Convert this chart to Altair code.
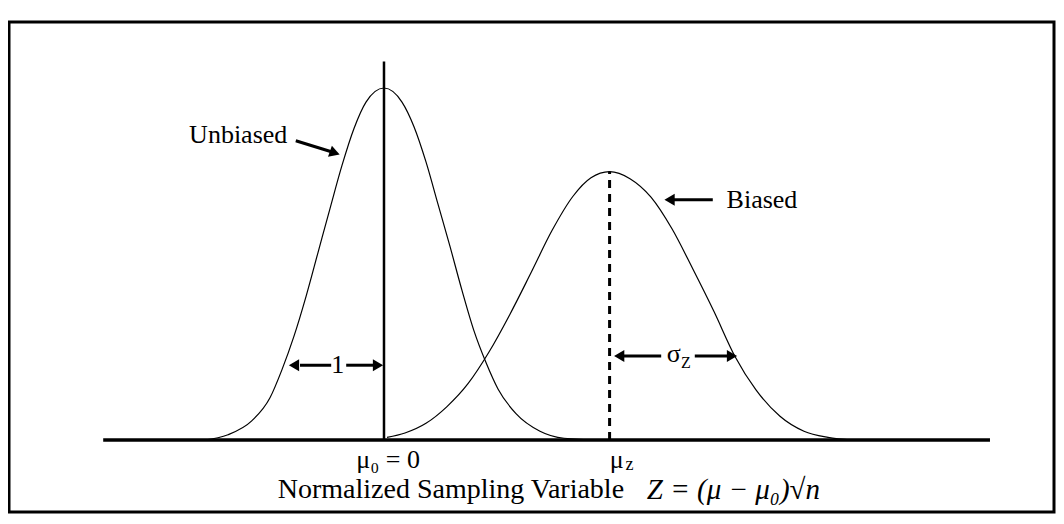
import altair as alt
import pandas as pd

# ---- curve values (Z units, relative density) ----
unbiased_z = [-3.0, -2.6, -2.2, -1.9, -1.7, -1.5, -1.3, -1.1, -0.9, -0.7, -0.5, -0.3,
              0.0, 0.3, 0.5, 0.7, 0.9, 1.1, 1.3, 1.5, 1.7, 1.9, 2.2, 2.6, 3.0, 3.6]
unbiased_density = [0.000, 0.006, 0.022, 0.048, 0.080, 0.118, 0.163, 0.213, 0.263, 0.312,
                    0.354, 0.384, 0.400, 0.384, 0.356, 0.316, 0.268, 0.220, 0.170, 0.124,
                    0.088, 0.058, 0.030, 0.010, 0.002, 0.000]
biased_z = [0.05, 0.35, 0.7, 1.05, 1.4, 1.75, 2.1, 2.45, 2.8, 3.15, 3.45, 3.76,
            4.1, 4.45, 4.8, 5.15, 5.5, 5.85, 6.2, 6.6, 7.0, 7.4, 7.8]
biased_density = [0.003, 0.008, 0.019, 0.038, 0.064, 0.100, 0.143, 0.190, 0.238, 0.277,
                  0.298, 0.305, 0.297, 0.276, 0.240, 0.194, 0.146, 0.095, 0.057, 0.027,
                  0.010, 0.003, 0.000]

mu0 = 0.0
mu_z = 3.76
unbiased_line_top = 0.43     # top of solid line at mu0
biased_peak = 0.305
baseline_start = -4.68
baseline_end = 10.10

# annotation arrows (shafts)
shaft_x1 = [-1.47, 5.48, -1.40, -0.63, 3.93, 5.18]
shaft_y1 = [0.340, 0.273, 0.085, 0.085, 0.0955, 0.0955]
shaft_x2 = [-0.85, 4.78, -0.88, -0.14, 4.62, 5.78]
shaft_y2 = [0.327, 0.273, 0.085, 0.085, 0.0955, 0.0955]
# arrow heads
head_x = [-0.82, 4.76, -1.50, -0.10, 3.92, 5.80]
head_y = [0.3262, 0.273, 0.085, 0.085, 0.0955, 0.0955]
head_angle = [19, 180, 180, 0, 180, 0]

# text labels
label_text = ["Unbiased", "Biased", "1", "σ", "Z", "μ₀ = 0", "μ", "z"]
label_x = [-2.43, 6.30, -0.77, 4.83, 5.03, 0.07, 3.88, 4.09]
label_y = [0.347, 0.273, 0.085, 0.098, 0.0875, -0.0227, -0.0227, -0.0285]
label_size = [26, 26, 26, 26, 16, 26, 26, 18]

title_main = "Normalized Sampling Variable"
title_math = "Z = (μ − μ₀)√n"
title_main_x = -1.77
title_math_x = 4.38
title_y = -0.0568

X_DOMAIN = [-6.25, 11.167]
Y_DOMAIN = [-0.0818, 0.475]
FONT = "Liberation Serif"

xs = alt.Scale(domain=X_DOMAIN, nice=False, zero=False)
ys = alt.Scale(domain=Y_DOMAIN, nice=False, zero=False)

curves = pd.DataFrame({
    "z": unbiased_z + biased_z,
    "d": unbiased_density + biased_density,
    "curve": ["Unbiased"] * len(unbiased_z) + ["Biased"] * len(biased_z),
})

curve_layer = alt.Chart(curves).mark_line(
    color="black", strokeWidth=1.2, interpolate="monotone"
).encode(
    x=alt.X("z:Q", scale=xs, axis=None),
    y=alt.Y("d:Q", scale=ys, axis=None),
    detail="curve:N",
)

base_df = pd.DataFrame({"x1": [baseline_start], "x2": [baseline_end], "y": [0.0]})
baseline = alt.Chart(base_df).mark_rule(color="black", strokeWidth=3.5).encode(
    x=alt.X("x1:Q", scale=xs, axis=None), x2="x2:Q",
    y=alt.Y("y:Q", scale=ys, axis=None),
)

solid_df = pd.DataFrame({"x": [mu0], "y1": [0.0], "y2": [unbiased_line_top]})
solid = alt.Chart(solid_df).mark_rule(color="black", strokeWidth=2.5).encode(
    x=alt.X("x:Q", scale=xs, axis=None),
    y=alt.Y("y1:Q", scale=ys, axis=None), y2="y2:Q",
)

dash_df = pd.DataFrame({"x": [mu_z], "y1": [0.0], "y2": [biased_peak]})
dashed = alt.Chart(dash_df).mark_rule(color="black", strokeWidth=3, strokeDash=[8, 6]).encode(
    x=alt.X("x:Q", scale=xs, axis=None),
    y=alt.Y("y1:Q", scale=ys, axis=None), y2="y2:Q",
)

shaft_df = pd.DataFrame({"x1": shaft_x1, "y1": shaft_y1, "x2": shaft_x2, "y2": shaft_y2})
shafts = alt.Chart(shaft_df).mark_rule(color="black", strokeWidth=3).encode(
    x=alt.X("x1:Q", scale=xs, axis=None), x2="x2:Q",
    y=alt.Y("y1:Q", scale=ys, axis=None), y2="y2:Q",
)

head_df = pd.DataFrame({"x": head_x, "y": head_y, "a": head_angle})
heads = alt.Chart(head_df).mark_point(
    shape="triangle-right", filled=True, color="black", opacity=1, size=140
).encode(
    x=alt.X("x:Q", scale=xs, axis=None),
    y=alt.Y("y:Q", scale=ys, axis=None),
    angle=alt.Angle("a:Q", scale=None),
)

lab_df = pd.DataFrame({"t": label_text, "x": label_x, "y": label_y, "s": label_size})
labels = alt.Chart(lab_df).mark_text(
    font=FONT, color="black", align="center", baseline="middle"
).encode(
    x=alt.X("x:Q", scale=xs, axis=None),
    y=alt.Y("y:Q", scale=ys, axis=None),
    text="t:N",
    size=alt.Size("s:Q", scale=None),
)

t1_df = pd.DataFrame({"t": [title_main], "x": [title_main_x], "y": [title_y]})
title1 = alt.Chart(t1_df).mark_text(
    font=FONT, fontSize=28, color="black", align="left", baseline="middle"
).encode(
    x=alt.X("x:Q", scale=xs, axis=None),
    y=alt.Y("y:Q", scale=ys, axis=None),
    text="t:N",
)

t2_df = pd.DataFrame({"t": [title_math], "x": [title_math_x], "y": [title_y]})
title2 = alt.Chart(t2_df).mark_text(
    font=FONT, fontSize=29, fontStyle="italic", color="black", align="left", baseline="middle"
).encode(
    x=alt.X("x:Q", scale=xs, axis=None),
    y=alt.Y("y:Q", scale=ys, axis=None),
    text="t:N",
)

chart = alt.layer(
    curve_layer, baseline, solid, dashed, shafts, heads, labels, title1, title2
).properties(
    width=1045, height=490,
    padding={"left": 1, "top": 14, "right": 2, "bottom": 2},
    background="white",
).configure_view(
    stroke="black", strokeWidth=3
)

chart.save("out.html", embed_options={"renderer": "svg", "actions": False})
